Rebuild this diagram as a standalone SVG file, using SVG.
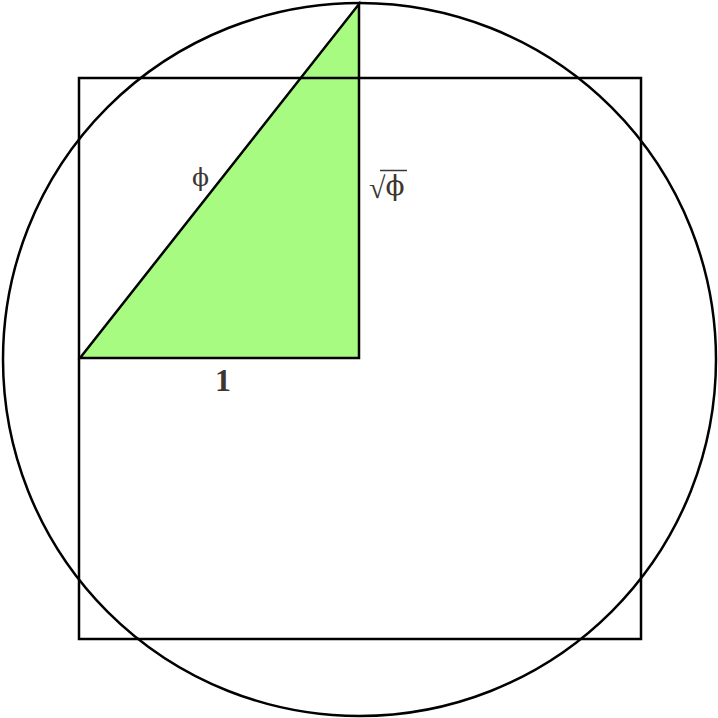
<svg xmlns="http://www.w3.org/2000/svg" width="718" height="718" viewBox="0 0 718 718">
<style>
.s{fill:none;stroke:#000;stroke-width:2.5}
.t{font-family:"Liberation Serif","Times New Roman",serif;fill:#3d3530}
.p{font-family:"DejaVu Serif",serif;fill:#3d3530}
</style>
<rect width="718" height="718" fill="#fff"/>
<g id="triangle"><polygon points="80,358 359,358 359,4" fill="#a6fb80" stroke="#000" stroke-width="2.5" stroke-linejoin="miter"/></g>
<g id="square"><rect class="s" x="79" y="78" width="562" height="561"/></g>
<g id="circle"><circle class="s" cx="359.5" cy="359.5" r="356.5"/></g>
<g id="labels">
<text class="p" x="192" y="186" font-size="25">ϕ</text>
<text class="t" x="369" y="198"><tspan font-size="30">√</tspan><tspan class="p" font-size="28" dy="-3">ϕ</tspan></text>
<line x1="380" y1="170.5" x2="407" y2="170.5" stroke="#3d3530" stroke-width="1.5"/>
<text class="t" x="215" y="391" font-size="32" font-weight="bold">1</text>
</g>
</svg>
